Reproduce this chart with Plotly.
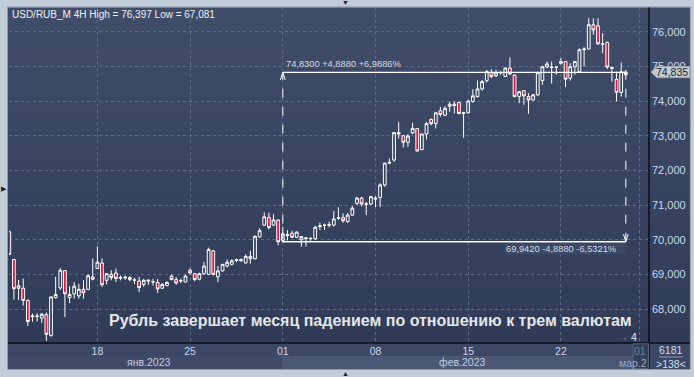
import plotly.graph_objects as go

# ---------------- data (4H candles, USD/RUB_M) ----------------
bar_index = list(range(134))
opens = [70.23, 69.43, 68.60, 68.60, 68.25, 67.78, 67.80, 67.74, 67.84, 67.24,
         68.33, 68.61, 69.11, 68.33, 68.44, 68.38, 68.57, 68.57, 68.93, 69.17,
         69.33, 68.83, 69.00, 69.04, 68.89, 68.90, 68.91, 68.83, 68.81, 68.71,
         68.81, 68.78, 68.77, 68.60, 68.68, 68.95, 68.85, 68.81, 68.78, 69.12,
         69.02, 68.86, 69.02, 69.00, 69.68, 68.93, 69.10, 69.24, 69.29, 69.40,
         69.39, 69.33, 69.52, 69.45, 70.08, 70.42, 70.64, 70.42, 70.57, 69.97,
         70.12, 70.19, 70.07, 70.00, 70.04, 70.03, 70.03, 70.38, 70.41, 70.42,
         70.42, 70.62, 70.64, 70.52, 70.71, 71.05, 71.20, 71.02, 71.03, 71.17,
         71.22, 71.58, 72.21, 72.30, 73.09, 73.00, 72.81, 73.08, 73.21, 72.60,
         73.05, 73.47, 73.35, 73.72, 73.59, 73.85, 73.91, 73.96, 73.64, 73.66,
         73.99, 74.13, 74.35, 74.59, 74.82, 74.73, 74.81, 74.71, 74.95, 74.75,
         74.13, 74.30, 74.13, 74.03, 74.18, 74.59, 74.98, 74.97, 74.97, 75.09,
         75.14, 74.66, 74.99, 74.85, 75.48, 75.50, 76.20, 76.17, 75.64, 75.69,
         74.94, 74.63, 74.25, 74.76]
highs = [70.26, 69.45, 68.84, 68.88, 68.28, 67.87, 67.88, 67.89, 67.90, 68.37,
         68.93, 69.18, 69.12, 68.66, 68.78, 68.73, 68.83, 69.00, 69.46, 69.81,
         69.46, 69.02, 69.12, 69.17, 68.97, 68.96, 68.95, 68.90, 68.93, 68.87,
         68.86, 68.87, 68.87, 68.75, 68.80, 69.00, 68.92, 68.88, 69.00, 69.17,
         69.04, 69.05, 69.36, 69.77, 69.70, 69.24, 69.30, 69.43, 69.44, 69.45,
         69.46, 69.58, 69.68, 70.12, 70.33, 70.79, 70.78, 70.74, 70.58, 70.37,
         70.28, 70.26, 70.24, 70.10, 70.08, 70.07, 70.40, 70.49, 70.47, 70.52,
         70.83, 70.94, 70.76, 70.77, 70.97, 71.24, 71.24, 71.09, 71.27, 71.25,
         71.63, 72.22, 72.34, 73.11, 73.40, 73.00, 73.05, 73.37, 73.22, 73.06,
         73.40, 73.50, 73.69, 73.83, 73.85, 73.98, 73.99, 73.98, 73.69, 74.03,
         74.34, 74.59, 74.61, 74.90, 74.92, 74.90, 74.87, 74.97, 75.26, 74.76,
         74.28, 74.31, 74.23, 74.20, 74.85, 75.01, 75.14, 75.14, 75.00, 75.24,
         75.15, 75.09, 75.15, 75.52, 75.55, 76.397, 76.39, 76.39, 75.96, 75.72,
         75.00, 74.85, 75.11, 74.90]
lows = [69.55, 68.27, 68.26, 68.10, 67.51, 67.63, 67.64, 67.60, 67.081, 67.20,
        68.30, 68.55, 67.77, 68.17, 68.30, 68.30, 68.30, 68.54, 68.83, 69.15,
        68.64, 68.71, 68.83, 68.78, 68.83, 68.84, 68.80, 68.72, 68.49, 68.64,
        68.70, 68.68, 68.46, 68.58, 68.65, 68.83, 68.70, 68.75, 68.78, 69.00,
        68.80, 68.83, 68.99, 68.98, 68.97, 68.78, 69.08, 69.20, 69.26, 69.35,
        69.37, 69.31, 69.31, 69.43, 70.06, 70.41, 70.30, 70.41, 69.84, 69.93,
        69.98, 70.05, 70.05, 69.80, 69.80, 69.97, 69.99, 70.28, 70.28, 70.36,
        70.38, 70.57, 70.49, 70.49, 70.69, 71.00, 70.96, 70.71, 71.00, 70.94,
        70.94, 71.53, 72.18, 72.25, 72.92, 72.66, 72.68, 73.05, 72.54, 72.58,
        72.89, 73.30, 73.21, 73.55, 73.57, 73.69, 73.64, 73.62, 72.94, 73.64,
        73.95, 74.10, 74.30, 74.53, 74.66, 74.69, 74.76, 74.70, 74.76, 74.11,
        73.94, 73.89, 73.63, 74.01, 74.15, 74.47, 74.95, 74.50, 74.76, 75.05,
        74.40, 74.59, 74.76, 74.84, 75.00, 75.49, 75.91, 75.62, 75.38, 74.92,
        74.56, 73.99, 74.13, 74.72]
closes = [69.58, 68.59, 68.67, 68.25, 67.64, 67.80, 67.79, 67.85, 67.27, 68.35,
          68.42, 69.12, 68.44, 68.42, 68.66, 68.57, 68.47, 68.96, 68.86, 69.35,
          68.70, 69.02, 68.91, 68.88, 68.91, 68.92, 68.85, 68.84, 68.62, 68.83,
          68.83, 68.79, 68.58, 68.71, 68.77, 68.85, 68.75, 68.82, 68.95, 69.04,
          68.85, 69.02, 69.24, 69.72, 69.00, 69.10, 69.29, 69.35, 69.39, 69.42,
          69.43, 69.52, 69.45, 70.10, 70.26, 70.66, 70.35, 70.57, 69.94, 70.17,
          70.15, 70.07, 70.22, 70.09, 70.05, 70.04, 70.36, 70.40, 70.42, 70.43,
          70.60, 70.63, 70.55, 70.71, 70.91, 71.20, 71.03, 71.03, 71.24, 71.20,
          71.58, 72.21, 72.23, 73.09, 73.05, 72.81, 72.99, 73.21, 72.56, 73.05,
          73.35, 73.35, 73.66, 73.61, 73.79, 73.91, 73.87, 73.64, 73.66, 74.00,
          74.15, 74.35, 74.56, 74.85, 74.71, 74.82, 74.82, 74.95, 74.78, 74.13,
          74.27, 74.15, 74.03, 74.18, 74.82, 74.99, 75.07, 74.98, 74.98, 75.14,
          74.63, 74.99, 75.14, 75.48, 75.50, 76.20, 76.05, 75.65, 75.65, 74.98,
          74.96, 74.25, 74.85, 74.835]

tick_positions = [19, 39, 59, 79, 99, 119, 136]
tick_labels = ["18", "25", "01", "08", "15", "22", "01"]
price_ticks = [68, 69, 70, 71, 72, 73, 74, 75, 76]
price_tick_labels = ["68,000", "69,000", "70,000", "71,000", "72,000",
                     "73,000", "74,000", "75,000", "76,000"]
month_labels = ["янв.2023", "фев.2023", "мар.2"]

# measurement tool values
measure_start_idx = 59
measure_end_idx = 133
measure_low = 69.942
measure_high = 74.830
measure_up_text = "74,8300 +4,8880 +6,9886%"
measure_down_text = "69,9420 -4,8880 -6,5321%"
last_price = 74.835
last_price_text = "74,835"

title_text = "USD/RUB_M 4H High = 76,397 Low = 67,081"
caption_text = "Рубль завершает месяц падением по отношению к трем валютам"

# ---------------- layout helpers ----------------
W, H = 694, 377
L, R, T, B = 9, 651, 8, 343


def px(x):
    return (x - L) / (R - L)


def py(y):
    return (B - y) / (B - T)


FONT = "Liberation Sans, Arial, sans-serif"
fs = 9.3

fig = go.Figure()
fig.add_trace(go.Candlestick(
    x=bar_index, open=opens, high=highs, low=lows, close=closes,
    increasing=dict(line=dict(color="#ffffff", width=1), fillcolor="rgba(0,0,0,0)"),
    decreasing=dict(line=dict(color="#ffffff", width=1), fillcolor="#e3123c"),
    whiskerwidth=0, hoverinfo="skip", showlegend=False,
))

shapes = []
# dark frame base
shapes.append(dict(type="rect", xref="paper", yref="paper", layer="below",
                   x0=px(8), x1=px(692), y0=py(369), y1=py(7.5),
                   fillcolor="#3a4663", line=dict(width=0)))
# gradient bands on plot + right panel
n = 24
top_c = (64, 77, 105)
bot_c = (47, 59, 87)
for i in range(n):
    t = (i + 0.5) / n
    c = tuple(int(round(top_c[j] + (bot_c[j] - top_c[j]) * t)) for j in range(3))
    y_top = 7.5 + (343 - 7.5) * i / n
    y_bot = 7.5 + (343 - 7.5) * (i + 1) / n
    shapes.append(dict(type="rect", xref="paper", yref="paper", layer="below",
                       x0=px(8), x1=px(692), y0=py(y_bot + 0.5), y1=py(y_top),
                       fillcolor="rgb(%d,%d,%d)" % c, line=dict(width=0)))
# bottom axis strip bands
shapes.append(dict(type="rect", xref="paper", yref="paper", layer="below",
                   x0=px(8), x1=px(692), y0=py(369), y1=py(343),
                   fillcolor="#3b4765", line=dict(width=0)))
shapes.append(dict(type="rect", xref="paper", yref="paper", layer="below",
                   x0=px(8), x1=px(283), y0=py(369), y1=py(356),
                   fillcolor="#3e4a68", line=dict(width=0)))
shapes.append(dict(type="rect", xref="paper", yref="paper", layer="below",
                   x0=px(283), x1=px(636), y0=py(369), y1=py(356),
                   fillcolor="#4a5775", line=dict(width=0)))
# outer thin border
shapes.append(dict(type="rect", xref="paper", yref="paper", layer="below",
                   x0=px(7.5), x1=px(692.5), y0=py(369.5), y1=py(7),
                   fillcolor="rgba(0,0,0,0)", line=dict(color="#8e99aa", width=1)))
# separators
shapes.append(dict(type="line", xref="paper", yref="paper", layer="above",
                   x0=px(8), x1=px(692), y0=py(343), y1=py(343),
                   line=dict(color="#0b0e14", width=1.5)))
shapes.append(dict(type="line", xref="paper", yref="paper", layer="above",
                   x0=px(651), x1=px(651), y0=py(369), y1=py(7.5),
                   line=dict(color="#0b0e14", width=1.5)))
# current-bar overlay on the date strip
shapes.append(dict(type="rect", xref="paper", yref="paper", layer="above",
                   x0=px(635), x1=px(650.5), y0=py(368.5), y1=py(343.8),
                   fillcolor="rgba(45,55,78,0.55)", line=dict(color="#56627c", width=1)))
# divider in right-bottom box
shapes.append(dict(type="line", xref="paper", yref="paper", layer="above",
                   x0=px(661), x1=px(685), y0=py(357), y1=py(357),
                   line=dict(color="#8d9ab0", width=1)))

# measurement tool lines
shapes.append(dict(type="line", xref="x", yref="y", layer="above",
                   x0=measure_start_idx, x1=measure_end_idx, y0=measure_high, y1=measure_high,
                   line=dict(color="#ffffff", width=1.3)))
shapes.append(dict(type="line", xref="x", yref="y", layer="above",
                   x0=measure_start_idx, x1=measure_end_idx, y0=measure_low, y1=measure_low,
                   line=dict(color="#ffffff", width=1.3)))
shapes.append(dict(type="line", xref="x", yref="y", layer="above",
                   x0=measure_start_idx, x1=measure_start_idx, y0=measure_low, y1=measure_high,
                   line=dict(color="#ffffff", width=1, dash="dash")))
shapes.append(dict(type="line", xref="x", yref="y", layer="above",
                   x0=measure_end_idx, x1=measure_end_idx, y0=measure_low, y1=measure_high,
                   line=dict(color="#ffffff", width=1, dash="dash")))
shapes.append(dict(type="path", xref="x", yref="y", layer="above",
                   path="M %f,%f L %f,%f L %f,%f" % (measure_start_idx - 0.5, measure_high - 0.22,
                                                     measure_start_idx, measure_high,
                                                     measure_start_idx + 0.5, measure_high - 0.22),
                   line=dict(color="#ffffff", width=1)))
shapes.append(dict(type="path", xref="x", yref="y", layer="above",
                   path="M %f,%f L %f,%f L %f,%f" % (measure_end_idx - 0.5, measure_low + 0.22,
                                                     measure_end_idx, measure_low,
                                                     measure_end_idx + 0.5, measure_low + 0.22),
                   line=dict(color="#ffffff", width=1)))
# lower measurement text background
shapes.append(dict(type="rect", xref="paper", yref="paper", layer="above",
                   x0=px(506), x1=px(628), y0=py(254.5), y1=py(243),
                   fillcolor="#3b4866", line=dict(width=0)))
# last price marker on the axis
half = 5.6 * (76.684 - 67.021) / (B - T)
shapes.append(dict(type="path", xref="paper", yref="y", layer="above",
                   path="M %f,%f L %f,%f L %f,%f L %f,%f L %f,%f Z" % (
                       px(653), last_price, px(659), last_price + half,
                       px(692), last_price + half, px(692), last_price - half,
                       px(659), last_price - half),
                   fillcolor="#c4cad3", line=dict(color="#9aa3b0", width=1)))

annotations = []
annotations.append(dict(xref="paper", yref="paper", x=px(10), y=py(15), xanchor="left",
                        yanchor="middle", text=title_text, showarrow=False,
                        font=dict(family=FONT, size=10, color="#eef2f8")))
annotations.append(dict(xref="paper", yref="paper", x=px(636), y=py(320), xanchor="right",
                        yanchor="middle", text="<b>%s</b>" % caption_text, showarrow=False,
                        font=dict(family=FONT, size=16.0, color="#e4e6ea")))
annotations.append(dict(xref="x", yref="paper", x=measure_start_idx, y=py(63.5),
                        xanchor="left", xshift=1, yanchor="middle", text=measure_up_text,
                        showarrow=False, font=dict(family=FONT, size=fs, color="#d5dae4")))
annotations.append(dict(xref="paper", yref="paper", x=px(620), y=py(249), xanchor="right",
                        yanchor="middle", text=measure_down_text, showarrow=False,
                        font=dict(family=FONT, size=fs, color="#d5dae4")))
annotations.append(dict(xref="paper", yref="y", x=px(674), y=last_price, xanchor="center",
                        yanchor="middle", text=last_price_text, showarrow=False,
                        font=dict(family=FONT, size=10.5, color="#1b2331")))
# month labels
annotations.append(dict(xref="paper", yref="paper", x=px(149), y=py(362), xanchor="center",
                        yanchor="middle", text=month_labels[0], showarrow=False,
                        font=dict(family=FONT, size=10.5, color="#c3cde0")))
annotations.append(dict(xref="paper", yref="paper", x=px(463), y=py(362), xanchor="center",
                        yanchor="middle", text=month_labels[1], showarrow=False,
                        font=dict(family=FONT, size=10.5, color="#c3cde0")))
annotations.append(dict(xref="paper", yref="paper", x=px(651), y=py(362.5), xanchor="right",
                        yanchor="middle", text=month_labels[2], showarrow=False,
                        font=dict(family=FONT, size=10.5, color="#9fa9bc")))
# right-bottom counters
annotations.append(dict(xref="paper", yref="paper", x=px(673), y=py(350), xanchor="center",
                        yanchor="middle", text="6181", showarrow=False,
                        font=dict(family=FONT, size=10.5, color="#d4deec")))
annotations.append(dict(xref="paper", yref="paper", x=px(673), y=py(363.5), xanchor="center",
                        yanchor="middle", text="&gt;138&lt;", showarrow=False,
                        font=dict(family=FONT, size=10.5, color="#d4deec")))
# small markers
annotations.append(dict(xref="paper", yref="paper", x=px(636), y=py(336.5), xanchor="center",
                        yanchor="middle", text="4", showarrow=False,
                        font=dict(family=FONT, size=10.5, color="#e6ecf4")))
annotations.append(dict(xref="paper", yref="paper", x=px(627), y=py(338), xanchor="center",
                        yanchor="middle", text="▲", showarrow=False,
                        font=dict(family=FONT, size=6, color="#4a5670")))
annotations.append(dict(xref="paper", yref="paper", x=px(347), y=py(3), xanchor="center",
                        yanchor="middle", text="▼", showarrow=False,
                        font=dict(family=FONT, size=7, color="#1a2030")))
annotations.append(dict(xref="paper", yref="paper", x=px(347), y=py(373.5), xanchor="center",
                        yanchor="middle", text="▲", showarrow=False,
                        font=dict(family=FONT, size=7, color="#1a2030")))
annotations.append(dict(xref="paper", yref="paper", x=px(3.5), y=py(188), xanchor="center",
                        yanchor="middle", text="▶", showarrow=False,
                        font=dict(family=FONT, size=7, color="#1a2030")))

fig.update_layout(
    width=W, height=H,
    margin=dict(l=L, r=W - R, t=T, b=H - B, pad=0),
    paper_bgcolor="#c3ccd9",
    plot_bgcolor="#37435f",
    showlegend=False,
    shapes=shapes,
    annotations=annotations,
    hovermode=False,
    boxgap=0.15,
    xaxis=dict(
        range=[-0.065, 138.0], rangeslider=dict(visible=False),
        tickmode="array", tickvals=tick_positions, ticktext=tick_labels,
        showgrid=True, gridcolor="#5b6a88", griddash="dot", gridwidth=1,
        zeroline=False, showline=False, ticks="",
        tickfont=dict(family=FONT, size=10.5, color="#cbd7ea"),
    ),
    yaxis=dict(
        range=[67.021, 76.684], side="right",
        tickmode="array", tickvals=price_ticks, ticktext=price_tick_labels,
        showgrid=True, gridcolor="#5b6a88", griddash="dot", gridwidth=1,
        zeroline=False, showline=False, ticks="", ticklabelstandoff=2,
        tickfont=dict(family=FONT, size=11, color="#cbd9ee"),
    ),
)

fig.write_html(
    "out.html",
    config={"displayModeBar": False},
    post_script="document.body.style.margin='0';document.body.style.overflow='hidden';",
)
